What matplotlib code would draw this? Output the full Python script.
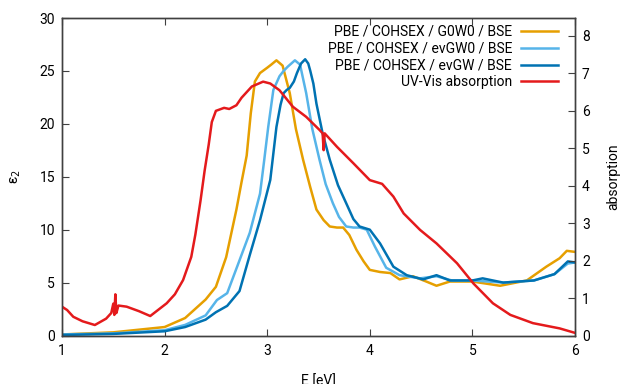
"""
BSE epsilon_2 spectra (three GW flavours) against measured UV-Vis absorption.
"""

import matplotlib
matplotlib.use("Agg")
import matplotlib.pyplot as plt

plt.rcParams["font.family"] = ["Roboto", "DejaVu Sans"]
plt.rcParams["font.size"] = 10

# PBE / COHSEX / G0W0 / BSE  (eps_2, left axis)
e_g0w0 = [1.0, 1.5, 2.0, 2.2, 2.4, 2.5, 2.6, 2.7, 2.75, 2.8, 2.84, 2.88, 2.93, 3.0,
          3.04, 3.09, 3.15, 3.22, 3.28, 3.35, 3.42, 3.48, 3.55, 3.61, 3.68, 3.74, 3.8,
          3.87, 3.94, 4.0, 4.1, 4.2, 4.29, 4.42, 4.55, 4.65, 4.78, 5.0, 5.27, 5.53,
          5.72, 5.85, 5.92, 6.0]
eps_g0w0 = [0.1, 0.3, 0.8, 1.65, 3.4, 4.6, 7.4, 11.9, 14.5, 17.0, 21.0, 24.0, 24.8, 25.3,
            25.6, 26.0, 25.5, 22.9, 19.5, 16.6, 14.0, 11.9, 10.9, 10.3, 10.2, 10.2, 9.5,
            8.1, 7.0, 6.2, 6.0, 5.9, 5.3, 5.6, 5.1, 4.7, 5.1, 5.1, 4.7, 5.2,
            6.5, 7.3, 8.0, 7.9]

# PBE / COHSEX / evGW0 / BSE
e_evgw0 = [1.0, 1.5, 2.0, 2.2, 2.4, 2.51, 2.61, 2.73, 2.83, 2.93, 2.97, 3.01, 3.06,
           3.12, 3.16, 3.2, 3.27, 3.32, 3.38, 3.44, 3.51, 3.57, 3.64, 3.70, 3.77, 3.84,
           3.9, 3.97, 4.05, 4.16, 4.29, 4.49, 4.65, 4.8, 5.0, 5.3, 5.6, 5.8, 5.93, 6.0]
eps_evgw0 = [0.1, 0.2, 0.5, 1.0, 1.9, 3.35, 4.0, 7.1, 9.7, 13.4, 16.5, 19.7, 23.2,
             24.5, 25.0, 25.4, 26.0, 25.6, 22.9, 19.5, 16.6, 14.3, 12.5, 11.2, 10.3, 10.2,
             10.2, 10.0, 8.4, 6.4, 5.7, 5.4, 5.6, 5.2, 5.2, 5.0, 5.2, 5.8, 6.8, 6.9]

# PBE / COHSEX / evGW / BSE
e_evgw = [1.0, 1.5, 2.0, 2.2, 2.4, 2.5, 2.61, 2.73, 2.83, 2.93, 3.03, 3.06, 3.09, 3.13,
          3.16, 3.19, 3.22, 3.26, 3.29, 3.33, 3.37, 3.40, 3.42, 3.45, 3.48, 3.54, 3.61,
          3.69, 3.77, 3.84, 3.9, 4.0, 4.1, 4.23, 4.36, 4.52, 4.65, 4.78, 5.0, 5.1,
          5.3, 5.6, 5.8, 5.93, 6.0]
eps_evgw = [0.05, 0.15, 0.4, 0.8, 1.5, 2.2, 2.8, 4.2, 7.6, 10.9, 14.7, 17.2, 19.7, 21.8,
            22.9, 23.2, 23.4, 24.0, 24.8, 25.7, 26.1, 25.7, 25.0, 23.8, 21.9, 19.1, 16.6,
            14.2, 12.5, 11.0, 10.3, 10.0, 8.7, 6.5, 5.7, 5.3, 5.7, 5.2, 5.2, 5.4,
            5.0, 5.2, 5.8, 7.0, 6.9]

# UV-Vis absorption (right axis)
e_uv = [1.0, 1.05, 1.11, 1.2, 1.32, 1.43, 1.48, 1.5, 1.51, 1.52, 1.53, 1.55, 1.63,
        1.75, 1.86, 2.02, 2.1, 2.18, 2.26, 2.3, 2.35, 2.39, 2.43, 2.46, 2.5, 2.58,
        2.63, 2.70, 2.75, 2.85, 2.96, 3.03, 3.12, 3.25, 3.38, 3.51, 3.54, 3.55, 3.56,
        3.68, 3.84, 4.0, 4.12, 4.23, 4.33, 4.49, 4.65, 4.85, 5.01, 5.2, 5.37, 5.59,
        5.85, 6.0]
abs_uv = [0.77, 0.68, 0.50, 0.38, 0.28, 0.45, 0.6, 0.85, 0.55, 1.1, 0.6, 0.8, 0.77,
          0.65, 0.52, 0.86, 1.1, 1.48, 2.10, 2.7, 3.6, 4.4, 5.1, 5.7, 6.0, 6.08,
          6.05, 6.15, 6.35, 6.65, 6.78, 6.73, 6.55, 6.11, 5.84, 5.49, 5.4, 4.95, 5.4,
          5.04, 4.60, 4.15, 4.05, 3.71, 3.26, 2.82, 2.46, 1.93, 1.39, 0.86, 0.55, 0.33,
          0.19, 0.07]

labels = ["PBE / COHSEX / G0W0 / BSE", "PBE / COHSEX / evGW0 / BSE",
          "PBE / COHSEX / evGW / BSE", "UV-Vis absorption"]
colors = ["#E69F00", "#56B4E9", "#0072B2", "#E41A1C"]

fig = plt.figure(figsize=(6.31, 3.84), dpi=100)
ax = fig.add_subplot(111)
fig.subplots_adjust(left=62 / 631, right=575 / 631, bottom=1 - 335.5 / 384, top=1 - 18 / 384)
ax2 = ax.twinx()

lines = []
lines += ax.plot(e_g0w0, eps_g0w0, color=colors[0], lw=1.8)
lines += ax.plot(e_evgw0, eps_evgw0, color=colors[1], lw=1.8)
lines += ax.plot(e_evgw, eps_evgw, color=colors[2], lw=1.8)
lines += ax2.plot(e_uv, abs_uv, color=colors[3], lw=1.8)

ax.set_xlim(1, 6)
ax.set_ylim(0, 30)
ax2.set_ylim(0, 8.48)
ax.set_xticks([1, 2, 3, 4, 5, 6])
ax.set_yticks([0, 5, 10, 15, 20, 25, 30])
ax2.set_yticks(range(0, 9))

spine_c = "#404040"
for a in (ax, ax2):
    for s in a.spines.values():
        s.set_color(spine_c)
        s.set_linewidth(1.0)
ax.tick_params(axis="x", direction="in", top=True, length=5, color=spine_c, pad=6)
ax.tick_params(axis="y", direction="in", right=False, length=5, color=spine_c, pad=5)
ax2.tick_params(axis="y", direction="in", length=5, color=spine_c, pad=5)

ax.set_xlabel("E [eV]", labelpad=12)
ax.set_ylabel("ε$_2$", labelpad=12)
ax2.set_ylabel("absorption", labelpad=12)

ax2.legend(lines, labels, loc="upper right", bbox_to_anchor=(558 / 631, 1 - 25 / 384),
           bbox_transform=fig.transFigure, frameon=False, markerfirst=False,
           borderpad=0, borderaxespad=0, handlelength=2.7, handletextpad=0.6,
           labelspacing=0.2, fontsize=10)

fig.savefig("out.png", dpi=100)
